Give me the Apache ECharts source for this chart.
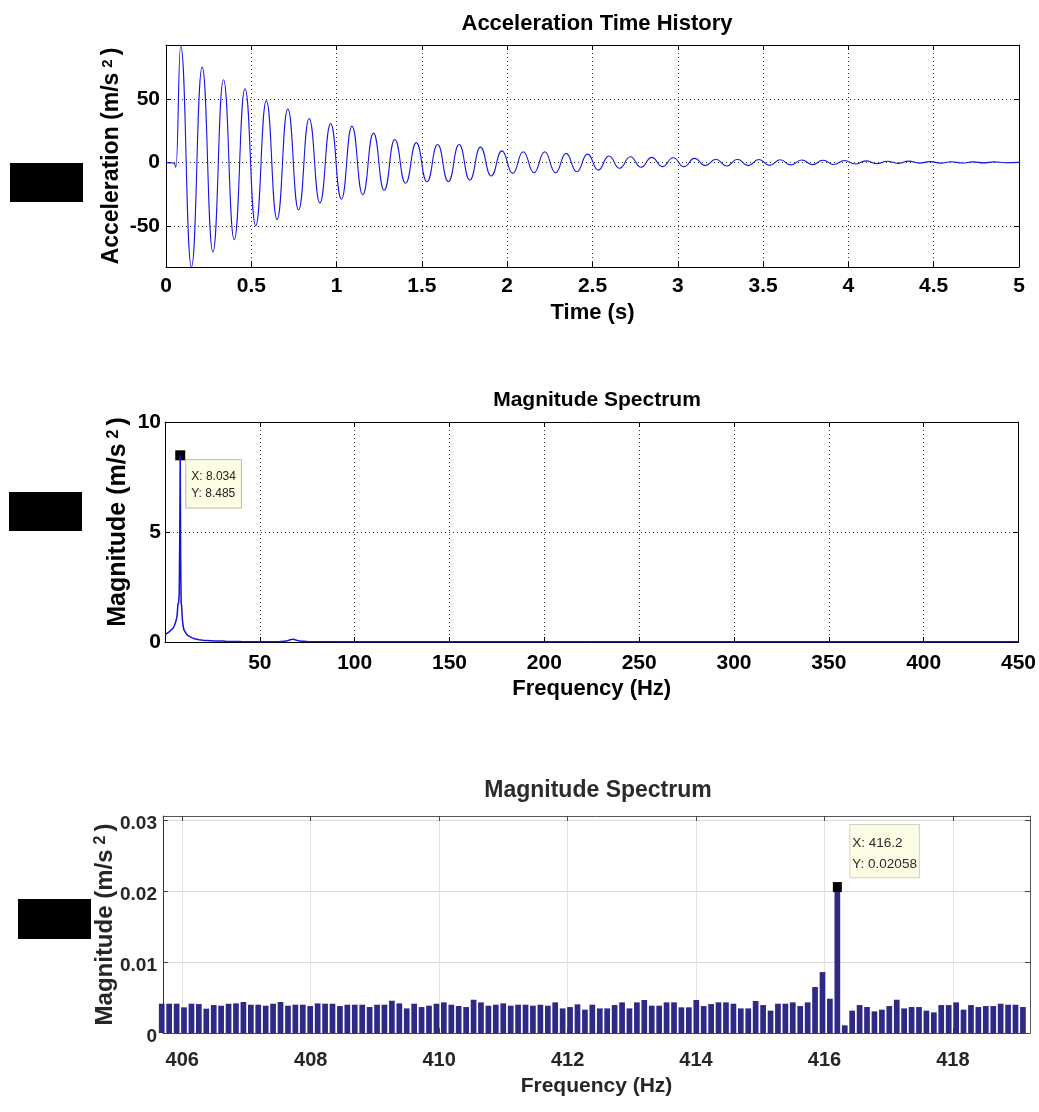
<!DOCTYPE html>
<html>
<head>
<meta charset="utf-8">
<title>Acceleration and magnitude spectrum</title>
<script src="https://cdn.jsdelivr.net/npm/echarts@6/dist/echarts.min.js"></script>
<style>
  html, body { margin: 0; padding: 0; background: #fff; }
  #c { width: 1039px; height: 1112px; }
</style>
</head>
<body>
<div id="c"></div>
<script>
// ---- Acceleration time history: turning points of the decaying oscillation ----
const accTime = [
  0, 0.04, 0.05, 0.058, 0.086, 0.149, 0.212, 0.275, 0.337, 0.400,
  0.463, 0.526, 0.588, 0.651, 0.714, 0.777, 0.839, 0.902, 0.965, 1.028,
  1.090, 1.153, 1.216, 1.279, 1.341, 1.404, 1.467, 1.530, 1.592, 1.655,
  1.718, 1.781, 1.843, 1.906, 1.969, 2.032, 2.094, 2.157, 2.220, 2.283,
  2.345, 2.408, 2.471, 2.534, 2.596, 2.659, 2.722, 2.785, 2.847, 2.910,
  2.973, 3.036, 3.098, 3.161, 3.224, 3.287, 3.349, 3.412, 3.475, 3.538,
  3.600, 3.663, 3.726, 3.789, 3.851, 3.914, 3.977, 4.040, 4.102, 4.165,
  4.228, 4.291, 4.353, 4.416, 4.479, 4.542, 4.604, 4.667, 4.730, 4.793,
  4.855, 4.918, 5.0
];
const accValue = [
  0, -0.5, -1, -4, 92, -82.4, 75, -70.5, 65, -61,
  58, -50, 48.5, -45, 42, -37.5, 34.5, -32, 30.5, -29,
  28.5, -25.5, 23, -22, 18, -16.5, 15.5, -15.3, 14, -15.3,
  14, -14, 12, -10.7, 9, -8.7, 8.4, -8.2, 8.4, -8.2,
  7.1, -7.4, 6.5, -6.1, 5, -4.7, 4.4, -3.9, 3.9, -3.4,
  3.6, -3.4, 3.1, -2.6, 2.4, -2.9, 2.4, -2.6, 2.2, -2.4,
  2.0, -2.0, 1.9, -1.8, 1.6, -1.7, 1.4, -1.3, 1.2, -1.0,
  0.9, -0.8, 1.0, -0.6, 0.6, -0.6, 0.5, -0.5, 0.4, -0.4,
  0.4, -0.3, 0
];
const accTicks = [-50, 0, 50];

// ---- Full-range magnitude spectrum ----
const specFreq = [
  0.2, 1, 2, 3, 4, 5, 5.8, 6.4, 6.8, 7.2,
  7.5, 7.8, 8.034, 8.25, 8.5, 8.8, 9.1, 9.5, 10, 11,
  12, 13, 14, 15, 16, 17, 18, 19, 20, 21,
  22, 23, 24, 25, 26, 27, 28, 29, 30, 32,
  35, 40, 50, 60, 64, 66, 67.5, 69, 71, 75,
  90, 120, 160, 200, 250, 300, 350, 400, 450
];
const specMag = [
  0.35, 0.4, 0.45, 0.5, 0.6, 0.75, 0.95, 1.2, 1.7, 1.8,
  2.2, 5.0, 8.485, 4.0, 1.8, 1.6, 1.1, 0.75, 0.55, 0.4,
  0.3, 0.24, 0.2, 0.16, 0.14, 0.12, 0.1, 0.09, 0.08, 0.1,
  0.07, 0.09, 0.06, 0.08, 0.05, 0.07, 0.05, 0.06, 0.04, 0.03,
  0.025, 0.02, 0.015, 0.015, 0.04, 0.1, 0.13, 0.09, 0.04, 0.02,
  0.015, 0.012, 0.01, 0.01, 0.01, 0.01, 0.01, 0.01, 0.01
];
const mainPeak = [8.034, 8.485];

// ---- Spectrum bins around 416 Hz ----
const binFreq = [
  405.680, 405.796, 405.912, 406.027, 406.143, 406.258, 406.374, 406.490, 406.605, 406.721, 406.836,
  406.952, 407.068, 407.183, 407.299, 407.414, 407.530, 407.646, 407.761, 407.877, 407.992,
  408.108, 408.224, 408.339, 408.455, 408.570, 408.686, 408.802, 408.917, 409.033, 409.148,
  409.264, 409.380, 409.495, 409.611, 409.726, 409.842, 409.958, 410.073, 410.189, 410.304,
  410.420, 410.536, 410.651, 410.767, 410.882, 410.998, 411.114, 411.229, 411.345, 411.460,
  411.576, 411.692, 411.807, 411.923, 412.038, 412.154, 412.270, 412.385, 412.501, 412.616,
  412.732, 412.848, 412.963, 413.079, 413.194, 413.310, 413.426, 413.541, 413.657, 413.772,
  413.888, 414.004, 414.119, 414.235, 414.350, 414.466, 414.582, 414.697, 414.813, 414.928,
  415.044, 415.160, 415.275, 415.391, 415.506, 415.622, 415.738, 415.853, 415.969, 416.084,
  416.200, 416.316, 416.431, 416.547, 416.662, 416.778, 416.894, 417.009, 417.125, 417.240,
  417.356, 417.472, 417.587, 417.703, 417.818, 417.934, 418.050, 418.165, 418.281, 418.396,
  418.512, 418.628, 418.743, 418.859, 418.974, 419.090
];
const binMag = [
  0.00413, 0.00413, 0.00413, 0.00362, 0.00413, 0.00408, 0.00343, 0.00394, 0.00385, 0.00413, 0.00418,
  0.00437, 0.00399, 0.00399, 0.00385, 0.00413, 0.00437, 0.00385, 0.00399, 0.00399, 0.00380,
  0.00418, 0.00413, 0.00413, 0.00380, 0.00399, 0.00399, 0.00399, 0.00366, 0.00399, 0.00399,
  0.00455, 0.00418, 0.00347, 0.00413, 0.00366, 0.00385, 0.00413, 0.00432, 0.00399, 0.00380,
  0.00366, 0.00469, 0.00432, 0.00385, 0.00399, 0.00418, 0.00385, 0.00399, 0.00399, 0.00385,
  0.00399, 0.00385, 0.00432, 0.00347, 0.00366, 0.00404, 0.00329, 0.00399, 0.00347, 0.00347,
  0.00394, 0.00432, 0.00347, 0.00432, 0.00465, 0.00385, 0.00385, 0.00432, 0.00432, 0.00362,
  0.00362, 0.00465, 0.00380, 0.00408, 0.00432, 0.00432, 0.00413, 0.00347, 0.00347, 0.00451,
  0.00394, 0.00315, 0.00413, 0.00413, 0.00432, 0.00380, 0.00432, 0.00648, 0.00859, 0.00484,
  0.02058, 0.00108, 0.00315, 0.00394, 0.00366, 0.00305, 0.00329, 0.00380, 0.00469, 0.00347,
  0.00366, 0.00366, 0.00315, 0.00291, 0.00394, 0.00394, 0.00432, 0.00329, 0.00394, 0.00366,
  0.00380, 0.00380, 0.00413, 0.00399, 0.00399, 0.00366
];
const zoomPeak = [416.2, 0.02058];
const zoomFreqTicks = [406, 408, 410, 412, 414, 416, 418];
const zoomMagTicks = [0, 0.01, 0.02, 0.03];

// ---- Styling helpers ----
const FONT = '"Liberation Sans", Arial, Helvetica, sans-serif';
const blackLine = { color: '#000', width: 1 };
const dottedGrid = { show: true, lineStyle: { color: '#333', width: 1, type: [1, 3] } };
const boldText = (size, color) => ({ fontFamily: FONT, fontWeight: 'bold', fontSize: size, color: color || '#000' });
// Axis title with a raised "2" for m/s^2
const superName = (main, size, color) => ({
  text: '{n|' + main + '}{s|2}{n|)}',
  rich: {
    n: boldText(size, color),
    s: Object.assign(boldText(Math.round(size * 0.65), color), { verticalAlign: 'top', padding: [0, 4, 0, 5] })
  }
});

// Frame axis: a mirrored axis that only draws the box edge and inward ticks
function frameAxis(gridIndex, position, base, lineColor) {
  return Object.assign({
    type: 'value', gridIndex, position,
    axisLine: { show: true, onZero: false, lineStyle: { color: lineColor, width: 1 } },
    axisTick: { show: true, inside: true, length: 5, lineStyle: { color: lineColor, width: 1 } },
    axisLabel: { show: false },
    splitLine: { show: false }
  }, base);
}

const yName0 = superName('Acceleration (m/s', 23);
const yName1 = superName('Magnitude (m/s', 25);
const yName2 = superName('Magnitude (m/s', 24, '#262626');

const option = {
  animation: false,
  backgroundColor: '#fff',
  title: [
    { text: 'Acceleration Time History', left: 592, top: 8, textAlign: 'center',
      textStyle: boldText(22) },
    { text: 'Magnitude Spectrum', left: 592, top: 385, textAlign: 'center',
      textStyle: boldText(21) },
    { text: 'Magnitude Spectrum', left: 593, top: 774, textAlign: 'center',
      textStyle: boldText(23, '#2b2b2b') }
  ],
  grid: [
    { left: 166, top: 45, width: 853, height: 222, show: false },
    { left: 165, top: 422, width: 855, height: 220, show: false },
    { left: 163, top: 816, width: 867, height: 217, show: false }
  ],
  xAxis: [
    {
      type: 'value', gridIndex: 0, position: 'bottom', min: 0, max: 5, interval: 0.5,
      axisLine: { show: true, onZero: false, lineStyle: blackLine },
      axisTick: { show: true, inside: true, length: 5, lineStyle: blackLine },
      axisLabel: Object.assign(boldText(21), { margin: 9 }),
      splitLine: dottedGrid,
      name: 'Time (s)', nameLocation: 'middle', nameGap: 35, nameTextStyle: boldText(22)
    },
    frameAxis(0, 'top', { min: 0, max: 5, interval: 0.5 }, '#000'),
    {
      type: 'value', gridIndex: 1, position: 'bottom', min: 0, max: 450, interval: 50,
      axisLine: { show: true, onZero: false, lineStyle: blackLine },
      axisTick: { show: true, inside: true, length: 5, lineStyle: blackLine },
      axisLabel: Object.assign(boldText(21), { margin: 11, showMinLabel: false }),
      splitLine: dottedGrid,
      name: 'Frequency (Hz)', nameLocation: 'middle', nameGap: 36, nameTextStyle: boldText(22)
    },
    frameAxis(1, 'top', { min: 0, max: 450, interval: 50 }, '#000'),
    {
      type: 'value', gridIndex: 2, position: 'bottom', min: 405.7, max: 419.2,
      axisLine: { show: true, onZero: false, lineStyle: { color: '#444', width: 1 } },
      axisTick: { show: true, inside: true, length: 5, customValues: zoomFreqTicks, lineStyle: { color: '#444' } },
      axisLabel: Object.assign(boldText(20, '#262626'), { margin: 17, customValues: zoomFreqTicks }),
      splitLine: { show: true, lineStyle: { color: '#e2e2e2', width: 1 } },
      name: 'Frequency (Hz)', nameLocation: 'middle', nameGap: 43, nameTextStyle: boldText(21, '#262626')
    },
    frameAxis(2, 'top', { min: 405.7, max: 419.2, axisTick: { show: true, inside: true, length: 5, customValues: zoomFreqTicks, lineStyle: { color: '#444' } } }, '#555')
  ],
  yAxis: [
    {
      type: 'value', gridIndex: 0, position: 'left', min: -82.4, max: 92.4,
      axisLine: { show: true, onZero: false, lineStyle: blackLine },
      axisTick: { show: true, inside: true, length: 5, customValues: accTicks, lineStyle: blackLine },
      axisLabel: Object.assign(boldText(21), { margin: 6, customValues: accTicks }),
      splitLine: dottedGrid,
      name: yName0.text, nameLocation: 'middle', nameGap: 43, nameMoveOverlap: false,
      nameTextStyle: { rich: yName0.rich }
    },
    frameAxis(0, 'right', { min: -82.4, max: 92.4, axisTick: { show: true, inside: true, length: 5, customValues: accTicks, lineStyle: blackLine } }, '#000'),
    {
      type: 'value', gridIndex: 1, position: 'left', min: 0, max: 10, interval: 5,
      axisLine: { show: true, onZero: false, lineStyle: blackLine },
      axisTick: { show: true, inside: true, length: 5, lineStyle: blackLine },
      axisLabel: Object.assign(boldText(21), { margin: 4 }),
      splitLine: dottedGrid,
      name: yName1.text, nameLocation: 'middle', nameGap: 34, nameMoveOverlap: false,
      nameTextStyle: { rich: yName1.rich, padding: [0, 0, 0, 20] }
    },
    frameAxis(1, 'right', { min: 0, max: 10, interval: 5 }, '#000'),
    {
      type: 'value', gridIndex: 2, position: 'left', min: 0, max: 0.0306,
      axisLine: { show: true, onZero: false, lineStyle: { color: '#333', width: 1 } },
      axisTick: { show: true, inside: true, length: 5, customValues: zoomMagTicks, lineStyle: { color: '#444' } },
      axisLabel: Object.assign(boldText(19, '#262626'), { margin: 6, customValues: zoomMagTicks, verticalAlign: 'top', lineHeight: 8 }),
      splitLine: { show: true, lineStyle: { color: '#dadada', width: 1 } },
      name: yName2.text, nameLocation: 'middle', nameGap: 46, nameMoveOverlap: false,
      nameTextStyle: { rich: yName2.rich }
    },
    frameAxis(2, 'right', { min: 0, max: 0.0306, axisTick: { show: true, inside: true, length: 5, customValues: zoomMagTicks, lineStyle: { color: '#444' } } }, '#555')
  ],
  series: [
    {
      type: 'line', xAxisIndex: 0, yAxisIndex: 0,
      data: accTime.map((t, i) => [t, accValue[i]]),
      symbol: 'none', smooth: 0.5, smoothMonotone: 'x', clip: true, z: 5,
      lineStyle: { color: '#1515e6', width: 1.1 }
    },
    {
      type: 'line', xAxisIndex: 2, yAxisIndex: 2,
      data: specFreq.map((f, i) => [f, specMag[i]]),
      symbol: 'none', clip: true, z: 5,
      lineStyle: { color: '#1212e0', width: 1.5 },
      markPoint: {
        silent: true, symbol: 'rect', symbolSize: 10,
        itemStyle: { color: '#000' },
        data: [{ coord: mainPeak }],
        label: {
          show: true, position: [11, 10], align: 'left', verticalAlign: 'top',
          formatter: 'X: ' + mainPeak[0] + '\nY: ' + mainPeak[1],
          fontFamily: FONT, fontSize: 12, lineHeight: 16.6, color: '#222',
          backgroundColor: '#fdfde3', borderColor: '#bdbda6', borderWidth: 1,
          padding: [8, 5, 6, 5]
        }
      }
    },
    {
      type: 'bar', xAxisIndex: 4, yAxisIndex: 4,
      data: binFreq.map((f, i) => [f, binMag[i]]),
      barWidth: 5.7, clip: true,
      itemStyle: { color: '#2e2985' },
      markPoint: {
        silent: true, symbol: 'rect', symbolSize: [9, 10],
        itemStyle: { color: '#000' },
        data: [{ coord: zoomPeak }],
        label: {
          show: true, position: [17.5, -57], align: 'left', verticalAlign: 'top',
          formatter: 'X: ' + zoomPeak[0] + '\nY: ' + zoomPeak[1],
          fontFamily: FONT, fontSize: 13.5, lineHeight: 21.6, color: '#2a2a2a',
          backgroundColor: '#fdfde6', borderColor: '#d2d2c0', borderWidth: 1,
          padding: [7, 2, 2, 2]
        }
      }
    }
  ],
  graphic: [
    { type: 'rect', shape: { x: 10, y: 163, width: 73, height: 39 }, style: { fill: '#000' } },
    { type: 'rect', shape: { x: 9, y: 492, width: 73, height: 39 }, style: { fill: '#000' } },
    { type: 'rect', shape: { x: 18, y: 899, width: 73, height: 40 }, style: { fill: '#000' } }
  ]
};

const chart = echarts.init(document.getElementById('c'), null, { renderer: 'canvas' });
chart.setOption(option);
</script>
</body>
</html>
